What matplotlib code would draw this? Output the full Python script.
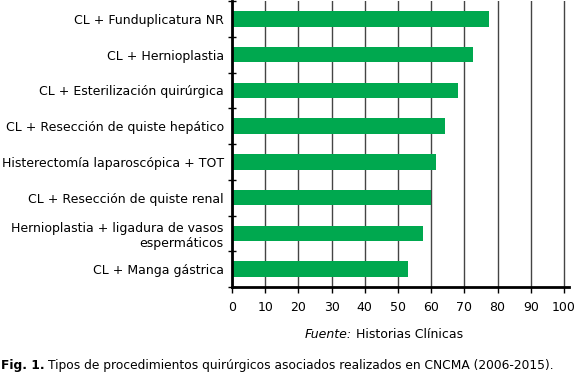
import matplotlib
matplotlib.use("Agg")
import matplotlib.pyplot as plt
import numpy as np

# Procedures, top to bottom as shown
procedures = [
    "CL + Funduplicatura NR",
    "CL + Hernioplastia",
    "CL + Esterilización quirúrgica",
    "CL + Resección de quiste hepático",
    "Histerectomía laparoscópica + TOT",
    "CL + Resección de quiste renal",
    "Hernioplastia + ligadura de vasos\nespermáticos",
    "CL + Manga gástrica",
]
values = [77.3, 72.7, 68.2, 64.1, 61.4, 60.0, 57.6, 52.9]
xticks = [0, 10, 20, 30, 40, 50, 60, 70, 80, 90, 100]

green = "#00a84f"

fig = plt.figure(figsize=(5.86, 3.79), dpi=100)
ax = fig.add_axes([232 / 586, 1 - 287 / 379, 337 / 586, 286 / 379])

y = np.arange(len(procedures))[::-1]
ax.barh(y, values, height=0.43, color=green, zorder=3)

ax.set_xlim(0, 101.5)
ax.set_ylim(-0.5, len(procedures) - 0.5)
ax.set_xticks(xticks)
ax.set_xticklabels([str(t) for t in xticks], fontsize=9)
ax.set_yticks(y)
ax.set_yticklabels(procedures, fontsize=9, linespacing=1.25)
for lab in ax.get_yticklabels():
    lab.set_horizontalalignment("right")
    lab.set_multialignment("right")

# small tick marks on category boundaries
ax.set_yticks(np.arange(-0.5, len(procedures), 1.0), minor=True)
ax.tick_params(axis="y", which="major", length=0, pad=6)
ax.tick_params(axis="y", which="minor", length=6, direction="inout", width=1)
ax.tick_params(axis="x", length=4, width=1, direction="out", pad=6)

ax.grid(axis="x", color="#444444", linewidth=1, zorder=0)
for s in ["top", "right"]:
    ax.spines[s].set_visible(False)
ax.spines["left"].set_linewidth(2)
ax.spines["bottom"].set_linewidth(2)
ax.spines["left"].set_zorder(4)

# source line: italic "Fuente:" followed by plain text
fig.canvas.draw()
r = fig.canvas.get_renderer()
t1 = fig.text(305 / 586, 1 - 335 / 379, "Fuente:", style="italic",
              ha="left", va="center", fontsize=9)
x1 = t1.get_window_extent(r).x1 / fig.bbox.width
fig.text(x1 + 4 / 586, 1 - 335 / 379, "Historias Clínicas",
         ha="left", va="center", fontsize=9)

# caption: bold "Fig. 1." then plain text
c1 = fig.text(1 / 586, 1 - 366 / 379, "Fig. 1.", weight="bold",
              ha="left", va="center", fontsize=8.8)
cx = c1.get_window_extent(r).x1 / fig.bbox.width
fig.text(cx + 3 / 586, 1 - 366 / 379,
         "Tipos de procedimientos quirúrgicos asociados realizados en CNCMA (2006-2015).",
         ha="left", va="center", fontsize=8.8)

fig.savefig("out.png", dpi=100)
